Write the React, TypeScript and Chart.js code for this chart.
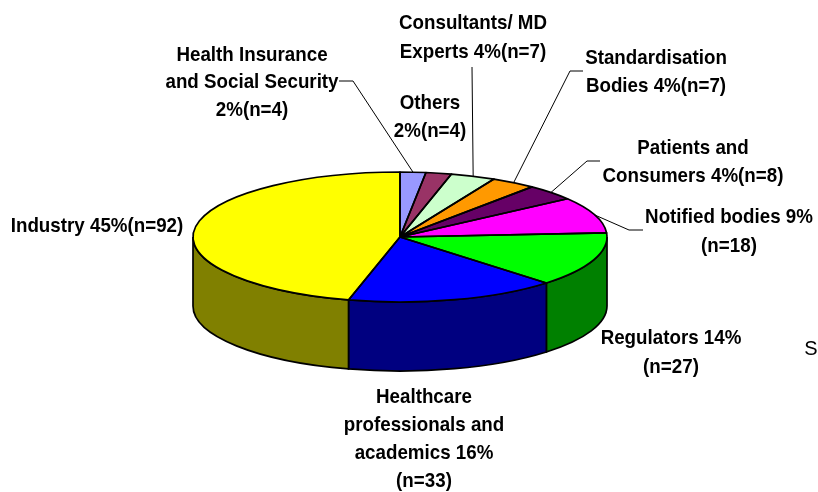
import React, { useEffect, useRef } from "react";
import { Chart, registerables } from "chart.js";

Chart.register(...registerables);

const categories = [
  "Health Insurance and Social Security",
  "Others",
  "Consultants/ MD Experts",
  "Standardisation Bodies",
  "Patients and Consumers",
  "Notified bodies",
  "Regulators",
  "Healthcare professionals and academics",
  "Industry",
];
const counts = [4, 4, 7, 7, 8, 18, 27, 33, 92];
const topColors = ["#9999FF", "#993366", "#CCFFCC", "#FF9900", "#660066", "#FF00FF", "#00FF00", "#0000FF", "#FFFF00"];
const wallColors = ["#4D4D80", "#4D1A33", "#668066", "#804D00", "#330033", "#800080", "#008000", "#000080", "#808000"];

const labelLines = [
  ["Health Insurance", "and Social Security", "2%(n=4)"],
  ["Others", "2%(n=4)"],
  ["Consultants/ MD", "Experts 4%(n=7)"],
  ["Standardisation", "Bodies 4%(n=7)"],
  ["Patients and", "Consumers 4%(n=8)"],
  ["Notified bodies 9%", "(n=18)"],
  ["Regulators 14%", "(n=27)"],
  ["Healthcare", "professionals and", "academics 16%", "(n=33)"],
  ["Industry 45%(n=92)"],
];
// Label layout: centre x, first-line centre y, line height
const labelLayout = [
  [252, 55, 27.5],
  [430, 103, 28],
  [473, 23, 29],
  [656, 58, 28],
  [693, 148, 28],
  [729, 217, 29],
  [671, 338, 29],
  [424, 397, 28],
  [97, 226, 28],
];
// Leader lines: label anchor and elbow (null where a label has none)
const leaders: (number[] | null)[] = [
  [339, 81, 353, 81],
  null,
  [472, 67, 472, 67],
  [583, 71, 570, 71],
  [600, 161, 587, 161],
  [643, 230, 629, 230],
  null,
  null,
  null,
];
const strayText = "S";

const SQUASH = 65 / 207;
const DEPTH = 69;
const OUTLINE = 1.7;
const TEXT_STRETCH = 0.915;
const FONT = 'bold 20.5px "Liberation Sans", Arial, sans-serif';

const pie3d = {
  id: "pie3d",
  beforeDatasetsDraw(chart: any) {
    const ctx = chart.ctx;
    const arcs = chart.getDatasetMeta(0).data;
    ctx.save();
    ctx.lineWidth = OUTLINE;
    ctx.strokeStyle = "#000";
    arcs.forEach((arc: any, i: number) => {
      const { x, y, startAngle, endAngle, outerRadius } = arc.getProps(["x", "y", "startAngle", "endAngle", "outerRadius"]);
      const a0 = Math.max(startAngle, 0);
      const a1 = Math.min(endAngle, Math.PI);
      if (a1 <= a0) return;
      const ry = outerRadius * SQUASH;
      ctx.beginPath();
      ctx.ellipse(x, y, outerRadius, ry, 0, a0, a1);
      ctx.ellipse(x, y + DEPTH, outerRadius, ry, 0, a1, a0, true);
      ctx.closePath();
      ctx.fillStyle = wallColors[i];
      ctx.fill();
      ctx.stroke();
    });
    ctx.restore();
  },
  beforeDatasetDraw(chart: any) {
    const ctx = chart.ctx;
    const { x, y } = chart.getDatasetMeta(0).data[0];
    ctx.save();
    ctx.translate(x, y);
    ctx.scale(1, SQUASH);
    ctx.translate(-x, -y);
  },
  afterDatasetDraw(chart: any) {
    const ctx = chart.ctx;
    ctx.restore();
    ctx.save();
    ctx.lineWidth = OUTLINE;
    ctx.strokeStyle = "#000";
    ctx.lineJoin = "round";
    chart.getDatasetMeta(0).data.forEach((arc: any) => {
      const { x, y, startAngle, endAngle, outerRadius } = arc.getProps(["x", "y", "startAngle", "endAngle", "outerRadius"]);
      ctx.beginPath();
      ctx.moveTo(x, y);
      ctx.ellipse(x, y, outerRadius, outerRadius * SQUASH, 0, startAngle, endAngle);
      ctx.closePath();
      ctx.stroke();
    });
    ctx.restore();
  },
  afterDraw(chart: any) {
    const ctx = chart.ctx;
    const arcs = chart.getDatasetMeta(0).data;
    ctx.save();
    ctx.lineWidth = 1;
    ctx.strokeStyle = "#000";
    leaders.forEach((l, i) => {
      if (!l) return;
      const { x, y, startAngle, endAngle, outerRadius } = arcs[i].getProps(["x", "y", "startAngle", "endAngle", "outerRadius"]);
      const mid = (startAngle + endAngle) / 2;
      ctx.beginPath();
      ctx.moveTo(l[0], l[1]);
      ctx.lineTo(l[2], l[3]);
      ctx.lineTo(x + outerRadius * Math.cos(mid), y + outerRadius * SQUASH * Math.sin(mid));
      ctx.stroke();
    });
    ctx.fillStyle = "#000";
    ctx.textAlign = "center";
    ctx.textBaseline = "middle";
    ctx.font = FONT;
    labelLines.forEach((lines, i) => {
      const [cx, cy, lh] = labelLayout[i];
      lines.forEach((t, j) => {
        ctx.save();
        ctx.translate(cx, cy + j * lh);
        ctx.scale(TEXT_STRETCH, 1);
        ctx.fillText(t, 0, 0);
        ctx.restore();
      });
    });
    ctx.font = '20px "Liberation Sans", Arial, sans-serif';
    ctx.fillText(strayText, 811, 349);
    ctx.restore();
  },
};

export default function App() {
  const ref = useRef<HTMLCanvasElement>(null);
  useEffect(() => {
    document.body.style.margin = "0";
    document.body.style.background = "#fff";
    const chart = new Chart(ref.current!, {
      type: "pie",
      data: {
        labels: categories,
        datasets: [
          {
            data: counts,
            backgroundColor: topColors,
            borderWidth: 0,
            hoverOffset: 0,
          },
        ],
      },
      options: {
        responsive: false,
        animation: false,
        radius: 207,
        layout: { padding: { left: 0, right: 18, top: 0, bottom: 18 } },
        plugins: { legend: { display: false }, tooltip: { enabled: false } },
      } as any,
      plugins: [pie3d],
    });
    return () => chart.destroy();
  }, []);
  return <canvas ref={ref} width={818} height={492} style={{ display: "block" }} />;
}
